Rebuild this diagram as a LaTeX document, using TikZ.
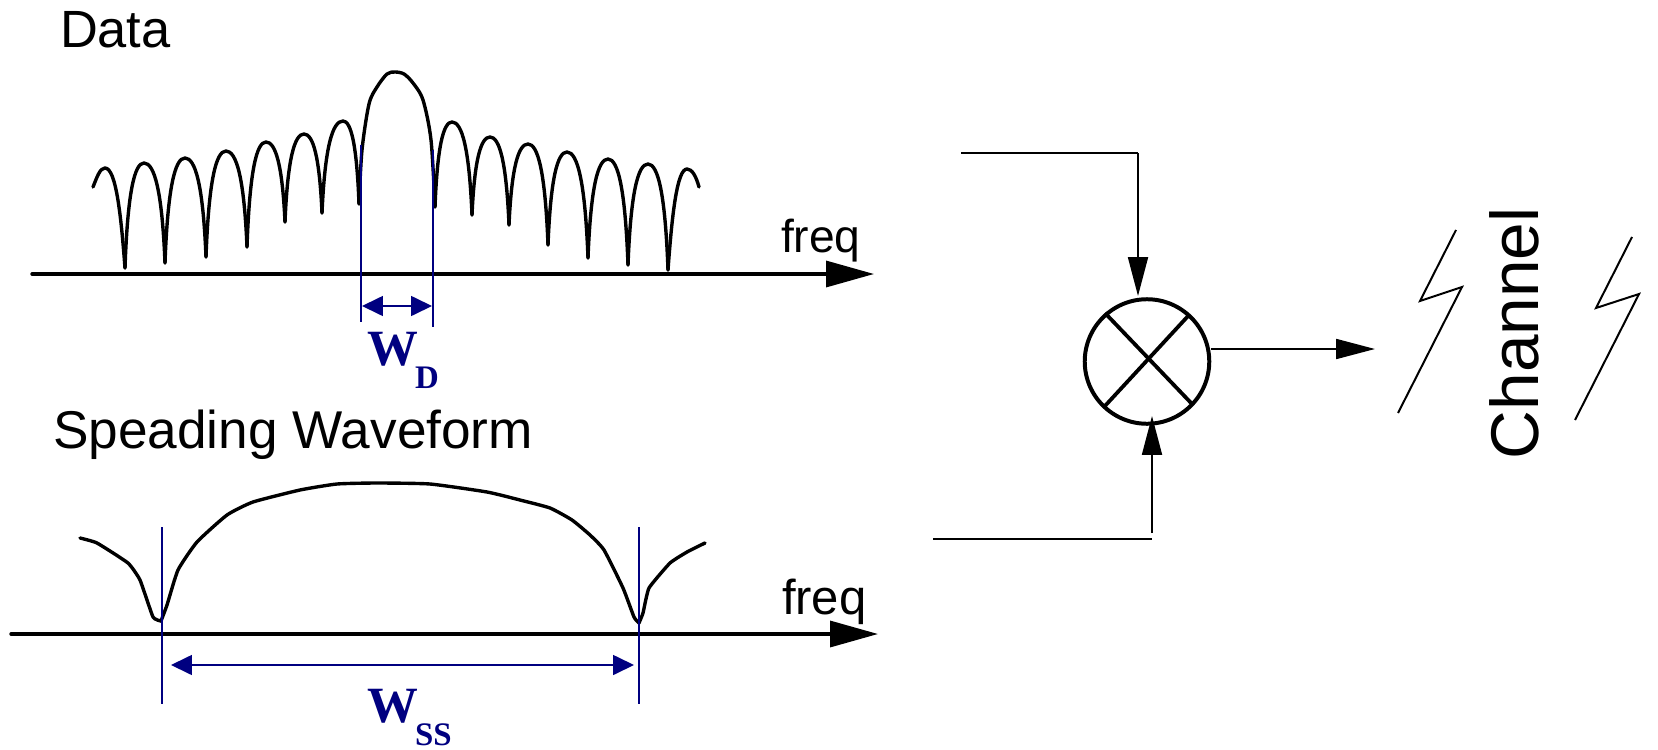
\documentclass[tikz,border=0pt]{standalone}
\usepackage{fontspec}
\setmainfont{Liberation Sans}
\newfontfamily\serifbold[BoldFont={Liberation Serif Bold}]{Liberation Serif}
\usetikzlibrary{arrows.meta,calc}
\definecolor{dimblue}{RGB}{0,0,128}
\newcommand{\pxfont}[1]{\fontsize{#1}{#1}\selectfont}
\tikzset{
  x=0.5bp,y=-0.5bp,
  lbl/.style={inner sep=0pt,outer sep=0pt,anchor=base west,text=black},
  bigdim/.style={lbl,text=dimblue,font=\serifbold\bfseries\pxfont{25.5}},
  subdim/.style={lbl,text=dimblue,font=\serifbold\bfseries\pxfont{16.5}},
  spectrum/.style={draw=black,line width=1.7pt,line cap=round,line join=round},
  axis/.style={draw=black,line width=1.7pt,line cap=round,-{Triangle[length=24pt,width=13pt]}},
  wire/.style={draw=black,line width=1pt,line cap=butt,-{Triangle[length=19.5pt,width=10pt]}},
  plainwire/.style={draw=black,line width=1pt},
  dimline/.style={draw=dimblue,line width=0.85pt},
  dimarrow/.style={draw=dimblue,line width=0.85pt,{Triangle[length=10.5pt,width=10pt]}-{Triangle[length=10.5pt,width=10pt]}},
  mixer/.style={circle,draw=black,line width=2pt,minimum size=62.5pt,inner sep=0pt},
  cross/.style={draw=black,line width=1.9pt},
  bolt/.style={draw=black,line width=1pt,line join=miter}
}
\begin{document}
\begin{tikzpicture}
\useasboundingbox (0,0) rectangle (1658,750);
% Data spectrum lobes: left trough / peak / right trough
\foreach \xa/\ya/\xp/\yp/\xb/\yb in {
  125/268/144/163/165/263, 165/263/185/158/206/257, 206/257/226/151/247/247,
  247/247/266/142/285/222, 285/222/304/134/322/213, 322/213/343/121/359/204,
  435/207/452/122/472/215, 472/215/490/137/509/225,
  509/225/528/144/548/245, 548/245/567/152/588/258, 588/258/608/159/628/265,
  628/265/648/164/668/270}
{
  \path[spectrum] (\xa,\ya)
    .. controls ({\xa+0.14*(\xp-\xa)},{\ya+0.72*(\yp-\ya)}) and ({\xp-0.5*(\xp-\xa)},\yp) .. (\xp,\yp)
    .. controls ({\xp+0.5*(\xb-\xp)},\yp) and ({\xb-0.14*(\xb-\xp)},{\yb+0.72*(\yp-\yb)}) .. (\xb,\yb);
}
\path[spectrum] plot[smooth,tension=0.5] coordinates {(359,204) (362,150) (369,104) (377,87) (387,74) (395,72) (404,74) (413,83) (423,100) (431,140) (435,207)};
\path[spectrum] (93,187) .. controls (97,177) and (100,168) .. (105,168)
   .. controls (116,168) and (121,215) .. (125,268);
\path[spectrum] (668,270) .. controls (672,215) and (677,169) .. (687,169)
   .. controls (692,169) and (696,176) .. (699,187);
% Spreading waveform spectrum
\path[spectrum] plot[smooth,tension=0.25] coordinates {(80,538) (97,543) (128,563) (140,580) (153,617) (161,621)};
\path[spectrum] plot[smooth,tension=0.3] coordinates {(161,621) (167,605) (178,570) (197,542) (227,515) (253,502) (300,490) (337,484) (377,483) (430,484) (487,492) (520,500) (550,508) (572,520) (590,535) (604,550) (623,588) (634,617) (639,623)};
\path[spectrum] plot[smooth,tension=0.25] coordinates {(639,623) (643,613) (649,588) (670,563) (687,552) (705,543)};
% Axes
\coordinate (a1s) at (32,274); \coordinate (a1e) at (874,274);
\coordinate (a2s) at (11,634); \coordinate (a2e) at (878,634);
\path[axis] (a1s) -- (a1e);
\path[axis] (a2s) -- (a2e);
% Dimension lines
\coordinate (d1t) at (361,145); \coordinate (d1b) at (361,322);
\coordinate (d2t) at (433,150); \coordinate (d2b) at (433,327);
\coordinate (d3t) at (162,527); \coordinate (d3b) at (162,704);
\coordinate (d4t) at (639,527); \coordinate (d4b) at (639,704);
\path[dimline] (d1t) -- (d1b);
\path[dimline] (d2t) -- (d2b);
\path[dimline] (d3t) -- (d3b);
\path[dimline] (d4t) -- (d4b);
\coordinate (w1l) at (362,306); \coordinate (w1r) at (432,306);
\coordinate (w2l) at (171,665); \coordinate (w2r) at (634,665);
\path[dimarrow] (w1l) -- (w1r);
\path[dimarrow] (w2l) -- (w2r);
% Labels
\node[lbl,font=\pxfont{26.3}] (data) at (60,47) {Data};
\node[lbl,font=\pxfont{26.7}] (spread) at (53,448) {Speading Waveform};
\node[lbl,font=\pxfont{23.2}] (freq1) at (781,252) {freq};
\node[lbl,font=\pxfont{24.6}] (freq2) at (782,614) {freq};
\node[bigdim] (wd) at (367,365) {W};
\node[subdim] (wdsub) at (415,388) {D};
\node[bigdim] (wss) at (367,722) {W};
\node[subdim] (wsssub) at (415,745) {SS};
\node[lbl,font=\pxfont{33.9},rotate=90] (channel) at (1538,459) {Channel};
% Mixer
\node[mixer] (mix) at (1147,361.5) {};
\coordinate (c1) at (1105,313); \coordinate (c2) at (1193,405);
\coordinate (c3) at (1189,315); \coordinate (c4) at (1104,407);
\path[cross] (c1) -- (c2);
\path[cross] (c3) -- (c4);
\coordinate (in1) at (961,153); \coordinate (in1c) at (1138,153); \coordinate (in1t) at (1138,296);
\coordinate (in2) at (933,539); \coordinate (in2c) at (1152,539); \coordinate (in2b) at (1152,533); \coordinate (in2t) at (1152,416);
\coordinate (outt) at (1375,349);
\path[plainwire] (in1) -- (in1c);
\path[wire] (in1c) -- (in1t);
\path[plainwire] (in2) -- (in2c);
\path[wire] (in2b) -- (in2t);
\path[wire] (mix.east |- outt) -- (outt);
% Lightning bolts
\coordinate (b1a) at (1456,230); \coordinate (b1b) at (1420,301); \coordinate (b1c) at (1462,287); \coordinate (b1d) at (1398,413);
\coordinate (b2a) at (1632,237); \coordinate (b2b) at (1596,308); \coordinate (b2c) at (1639,294); \coordinate (b2d) at (1575,420);
\path[bolt] (b1a) -- (b1b) -- (b1c) -- (b1d);
\path[bolt] (b2a) -- (b2b) -- (b2c) -- (b2d);
\end{tikzpicture}
\end{document}
